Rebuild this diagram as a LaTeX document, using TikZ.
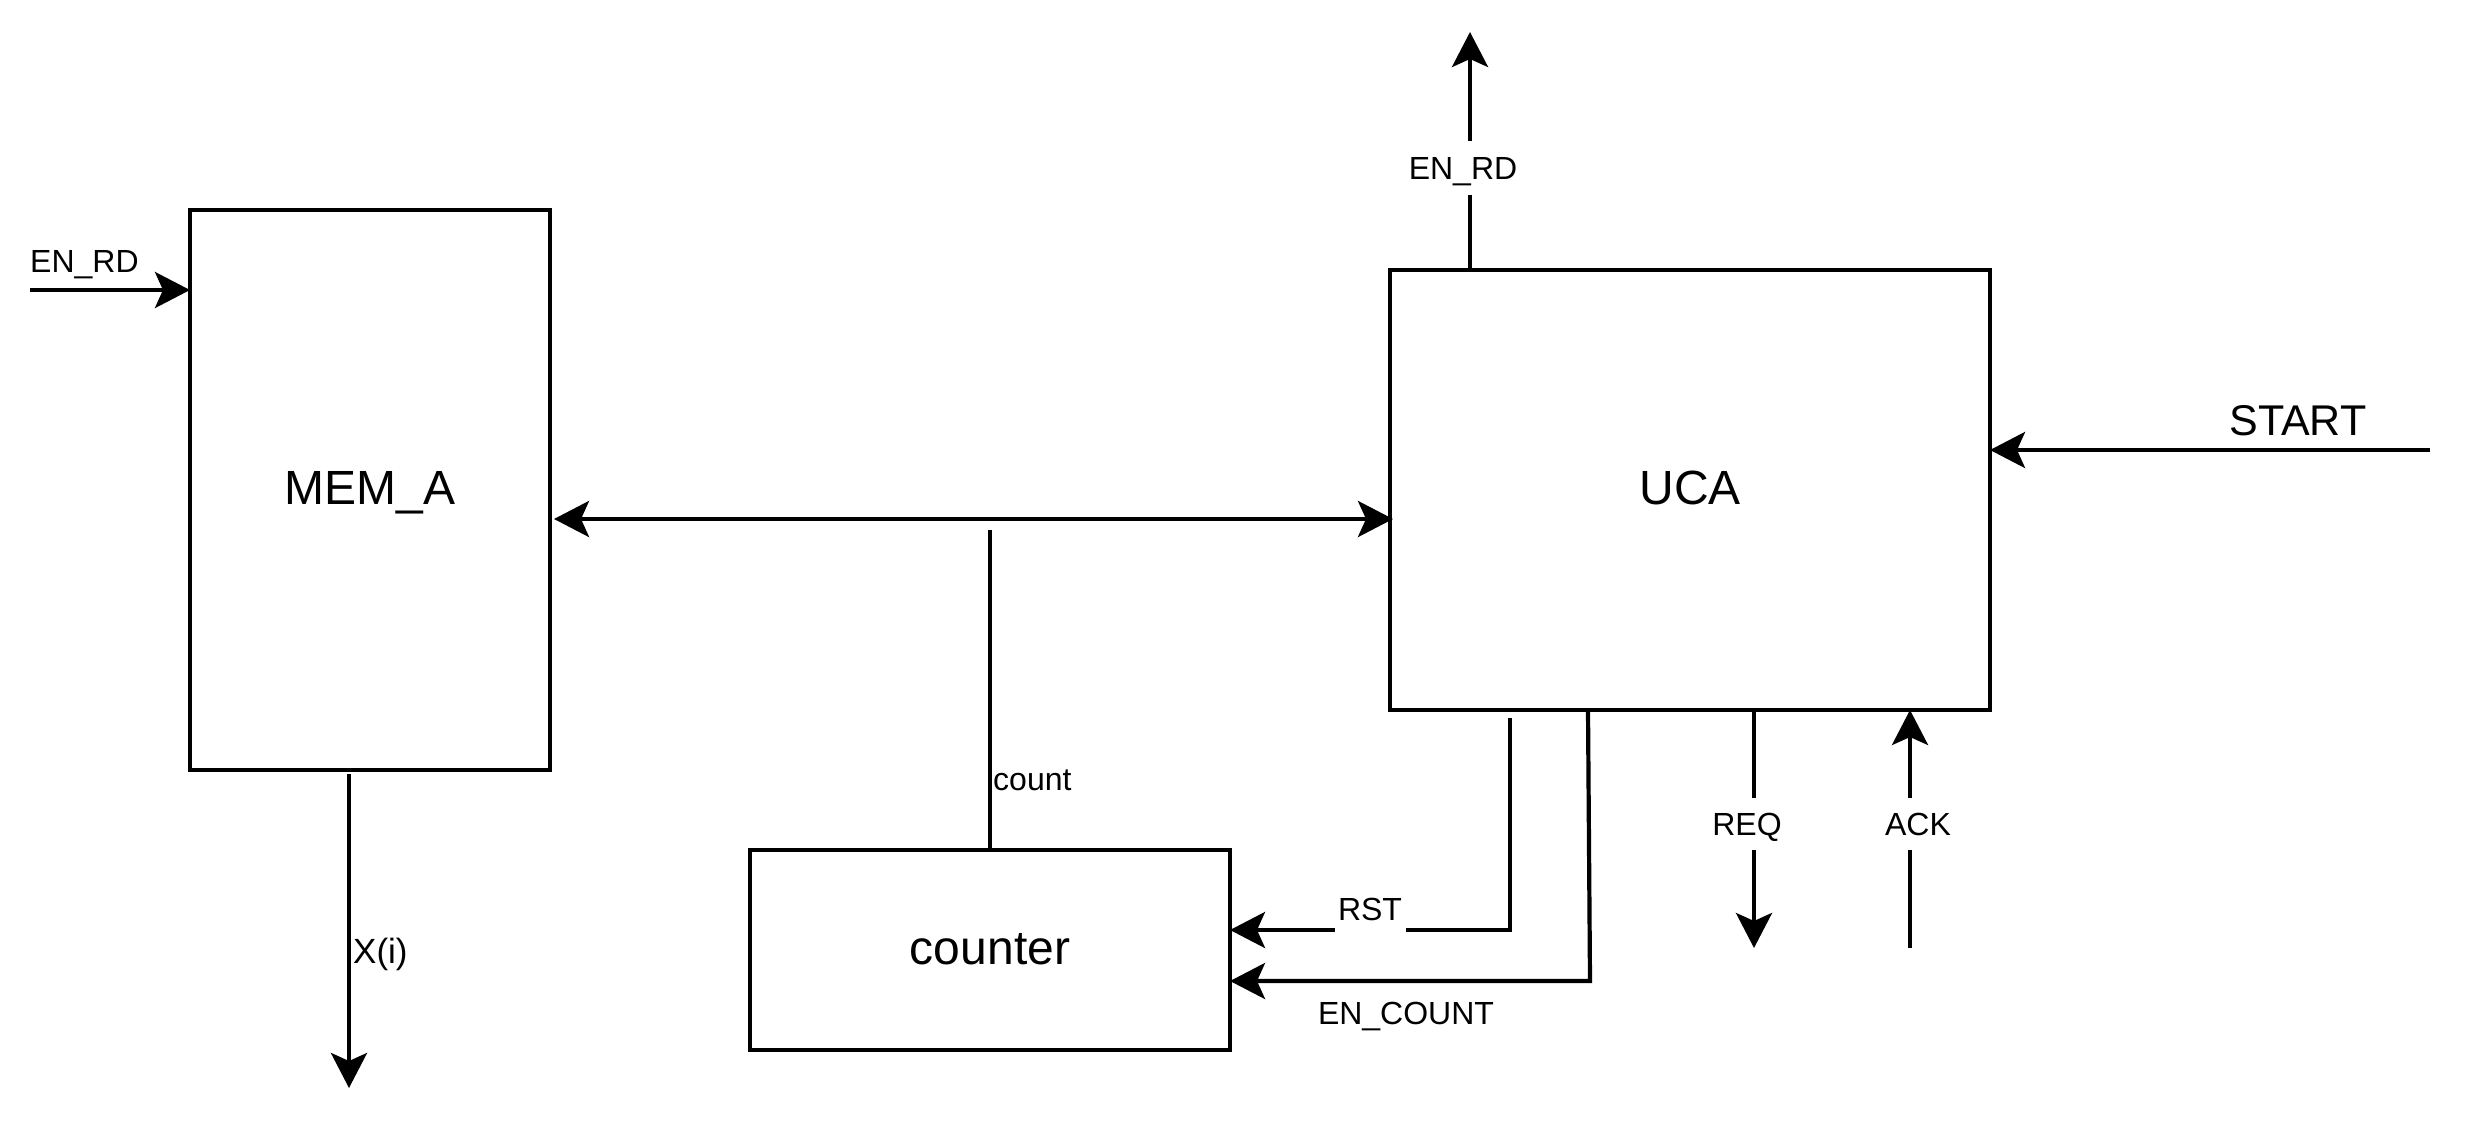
\documentclass[tikz,border=0pt]{standalone}
\usepackage{fontspec}
\setmainfont{Liberation Sans}
\usetikzlibrary{arrows.meta}
\begin{document}
\begin{tikzpicture}[x=1pt,y=-1pt,
  box/.style={draw, line width=4.2pt, outer sep=0pt, inner sep=0pt},
  wire/.style={line width=4.2pt},
  arr/.style={wire, -{Stealth[length=35pt,width=36pt,inset=8pt]}},
  biarr/.style={wire, {Stealth[length=35pt,width=36pt,inset=8pt]}-{Stealth[length=35pt,width=36pt,inset=8pt]}},
  big/.style={font=\fontsize{48}{58}\selectfont, text height=34.4pt, text depth=6pt},
  small/.style={font=\fontsize{32}{38}\selectfont, inner sep=0pt, text height=23pt, text depth=0pt},
  gaplbl/.style={small, fill=white, minimum height=52pt}]
\useasboundingbox (0,0) rectangle (2468,1124);

% boxes
\node[box, big, minimum width=360pt, minimum height=560pt] (mem) at (370,490) {MEM\_A};
\node[box, big, minimum width=480pt, minimum height=200pt] (counter) at (990,950) {counter};
\node[box, big, minimum width=600pt, minimum height=440pt] (uca) at (1690,490) {UCA};

% EN_RD into MEM_A
\coordinate (enrdL) at (30,290);
\draw[arr] (enrdL) -- (mem.west |- enrdL);
\node[small, anchor=west] (lenrdl) at (30,261) {EN\_RD};

% bus between MEM_A and UCA
\coordinate (busL) at (554,519);
\coordinate (busR) at (1393,519);
\draw[biarr] (busL) -- (busR);

% count
\coordinate (cnt) at (990,530);
\draw[wire] (counter.north) -- (cnt);
\node[small, anchor=west] (lcount) at (993,779) {count};

% X(i)
\coordinate (xT) at (349,774);
\coordinate (xB) at (349,1088);
\draw[arr] (xT) -- (xB);
\node[font=\fontsize{35}{42}\selectfont, inner sep=0pt, text height=25pt, text depth=0pt, anchor=west] (lxi) at (353,951) {X(i)};

% EN_RD out of UCA
\coordinate (enrdT) at (1470,32);
\draw[arr] (uca.north -| enrdT) -- (enrdT);

% START
\coordinate (startR) at (2430,450);
\draw[arr] (startR) -- (uca.east |- startR);
\node[font=\fontsize{43}{52}\selectfont, inner sep=0pt, text height=31pt, text depth=0pt] (lstart) at (2298,420) {START};

% RST
\coordinate (rstT) at (1510,718);
\draw[arr] (rstT) |- ([yshift=20pt]counter.east);

% EN_COUNT
\coordinate (ecT) at (1588,710);
\coordinate (ecB) at (1590,981);
\draw[arr] (ecT) -- (ecB) -- ([yshift=-31pt]counter.east);
\node[small] (lencount) at (1406,1013) {EN\_COUNT};

% REQ / ACK
\coordinate (reqB) at (1754,948);
\draw[arr] (uca.south -| reqB) -- (reqB);
\coordinate (ackB) at (1910,948);
\draw[arr] (ackB) -- (uca.south -| ackB);

% labels on lines (white background)
\node[gaplbl, minimum width=115pt, minimum height=54pt] (lenrdt) at (1463,168) {EN\_RD};
\node[gaplbl, minimum width=71pt] (lrst) at (1370,909) {RST};
\node[gaplbl, minimum width=76pt] (lreq) at (1747,824) {REQ};
\node[gaplbl, minimum width=74pt] (lack) at (1918,824) {ACK};
\end{tikzpicture}
\end{document}
